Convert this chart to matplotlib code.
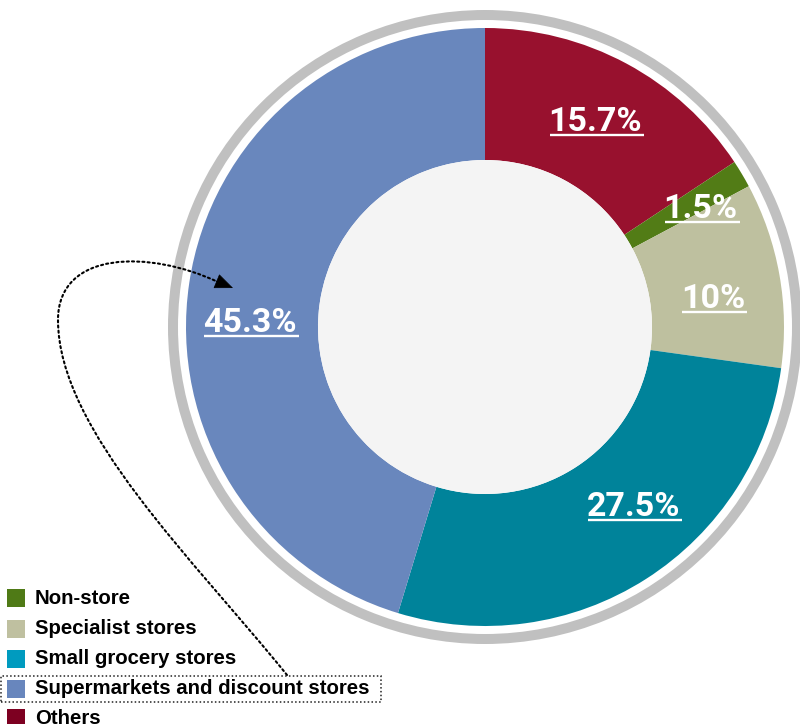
import matplotlib
matplotlib.use("Agg")
import matplotlib.pyplot as plt
import numpy as np
from matplotlib.patches import Circle, Wedge, Rectangle, FancyArrowPatch
from matplotlib.path import Path

# shares in pie order, clockwise from 12 o'clock
slices = ["Others", "Non-store", "Specialist stores", "Small grocery stores",
          "Supermarkets and discount stores"]
shares = [15.7, 1.5, 10.0, 27.5, 45.3]
share_labels = ["15.7%", "1.5%", "10%", "27.5%", "45.3%"]
pie_colors = ["#98112e", "#527c16", "#bec09f", "#00839a", "#6987bd"]

# legend order
legend_names = ["Non-store", "Specialist stores", "Small grocery stores",
                "Supermarkets and discount stores", "Others"]
legend_colors = ["#4f7a16", "#bfc0a0", "#009bbf", "#6886bd", "#7d0021"]

W, H = 800, 724
cx, cy = 485, 327          # pie centre (pixels from top-left)
R, R_IN = 299, 167


def P(x, y):
    # top-left pixel coords -> data coords
    return (x, H - y)


fig = plt.figure(figsize=(W / 100, H / 100), dpi=100)
ax = fig.add_axes([0, 0, 1, 1])

# grey outer ring
ax.add_patch(Wedge(P(cx, cy), 317, 0, 360, width=10, facecolor="#c0c0c0",
                   edgecolor="none", zorder=1))

wedges, _ = ax.pie(shares, colors=pie_colors, startangle=90, counterclock=False,
                   center=P(cx, cy), radius=R, frame=True,
                   wedgeprops=dict(linewidth=0, width=R - R_IN))
for w in wedges:
    w.set_zorder(2)
ax.add_patch(Circle(P(cx, cy), R_IN, facecolor="#f4f4f4", edgecolor="none",
                    zorder=2))

ax.set_xlim(0, W)
ax.set_ylim(0, H)
ax.set_aspect("equal")
ax.axis("off")

# percentage labels in the ring, slightly nudged off the mid-angle
nudge_deg = [0, 2, 3, -7, -7.5]
nudge_r = [233, 246, 230, 233, 235]
cum = np.cumsum([0] + shares)
label_texts = []
for i, lab in enumerate(share_labels):
    mid = (cum[i] + cum[i + 1]) / 2 / 100 * 360 + nudge_deg[i]
    a = np.radians(mid)
    x = cx + nudge_r[i] * np.sin(a)
    y = cy - nudge_r[i] * np.cos(a)
    t = ax.text(*P(x, y), lab, color="white", fontsize=24.5, fontweight="bold",
                family="Roboto", ha="center", va="center", zorder=5)
    label_texts.append(t)

# legend
row_y = [598, 629, 659, 689, 718]
for name, col, y in zip(legend_names, legend_colors, row_y):
    ax.add_patch(Rectangle(P(7, y + 9), 18, 18, facecolor=col, edgecolor="none"))
    ax.text(*P(35, y), name, fontsize=14.7, fontweight="bold",
            family="Liberation Sans", ha="left", va="center", color="black")

# dotted box around the supermarkets entry
ax.add_patch(Rectangle(P(0.5, 702), 380, 26, fill=False, edgecolor="#222222",
                       linestyle=(0, (1, 1.5)), linewidth=1.1, zorder=4))

# dotted curved pointer from the legend entry to the 45.3% label
verts = [P(287, 675), P(195, 561), P(58, 430), P(58, 320),
         P(58, 250), P(150, 250), P(218, 282)]
codes = [Path.MOVETO] + [Path.CURVE4] * 6
ax.add_patch(FancyArrowPatch(path=Path(verts, codes), arrowstyle="-",
                             color="black", linewidth=1.5,
                             linestyle=(0, (1, 1.5)), zorder=6))
# solid arrow head at the end
ax.annotate("", xy=P(233, 288), xytext=P(216, 281),
            arrowprops=dict(arrowstyle="-|>,head_length=1.2,head_width=0.5",
                            color="black", linewidth=0.5, shrinkA=0, shrinkB=0),
            zorder=6)

# underline the ring labels
fig.canvas.draw()
renderer = fig.canvas.get_renderer()
inv = ax.transData.inverted()
for t in label_texts:
    bb = t.get_window_extent(renderer)
    (x0, y0), (x1, y1) = inv.transform([(bb.x0, bb.y0), (bb.x1, bb.y1)])
    uy = y0 + 3
    ax.plot([x0 + 1, x1 + 2], [uy, uy], color="white", linewidth=1.7,
            solid_capstyle="butt", zorder=5)

fig.savefig("out.png", dpi=100, facecolor="white")
